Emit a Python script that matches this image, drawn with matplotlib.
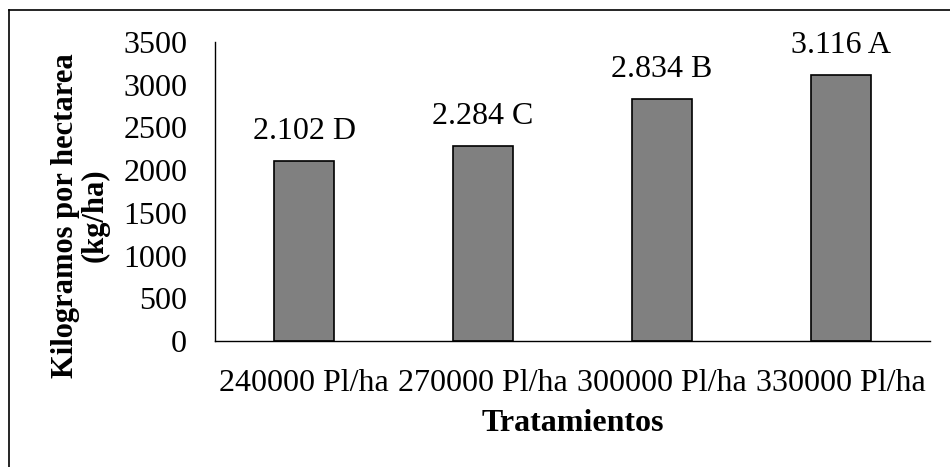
import matplotlib
matplotlib.use("Agg")
import matplotlib.pyplot as plt
from matplotlib.lines import Line2D

# rendimiento por densidad de siembra
tratamientos = ["240000 Pl/ha", "270000 Pl/ha", "300000 Pl/ha", "330000 Pl/ha"]
rendimiento = [2102, 2284, 2834, 3116]
etiquetas = ["2.102 D", "2.284 C", "2.834 B", "3.116 A"]

plt.rcParams['font.family'] = ['Liberation Serif', 'DejaVu Serif']
fs = 23

fig = plt.figure(figsize=(9.5, 4.67), dpi=100)
ax = fig.add_axes([0.2263, 0.2698, 0.7526, 0.6403])

x = range(len(tratamientos))
bars = ax.bar(x, rendimiento, width=0.336, color="#808080", edgecolor="black", linewidth=1.2)

for b, txt in zip(bars, etiquetas):
    ax.annotate(txt, (b.get_x() + b.get_width() / 2, b.get_height()),
                xytext=(0, 11), textcoords="offset points",
                ha="center", va="bottom", fontsize=fs)

ax.set_xlim(-0.5, len(tratamientos) - 0.5)
ax.set_ylim(0, 3500)
ax.set_yticks(range(0, 3501, 500))
ax.set_xticks(list(x))
ax.set_xticklabels(tratamientos)
ax.tick_params(axis="both", length=0, labelsize=fs)
ax.tick_params(axis="y", pad=20)
ax.tick_params(axis="x", pad=20)

for s in ["top", "right"]:
    ax.spines[s].set_visible(False)
ax.spines["left"].set_linewidth(1.0)
ax.spines["bottom"].set_linewidth(1.0)

ax.set_xlabel("Tratamientos", fontsize=fs, fontweight="bold", labelpad=8)
ax.set_ylabel("Kilogramos por hectarea\n(kg/ha)", fontsize=22, fontweight="bold",
              labelpad=10, linespacing=1.0)
ax.yaxis.label.set_y(0.42)

# marco del grafico (solo se ven los bordes izquierdo y superior)
fig.add_artist(Line2D([9 / 950, 9 / 950], [0, 1 - 10 / 467], color="black", lw=1.2,
                      transform=fig.transFigure))
fig.add_artist(Line2D([9 / 950, 1], [1 - 10 / 467, 1 - 10 / 467], color="black", lw=1.2,
                      transform=fig.transFigure))

fig.savefig("out.png", dpi=100)
